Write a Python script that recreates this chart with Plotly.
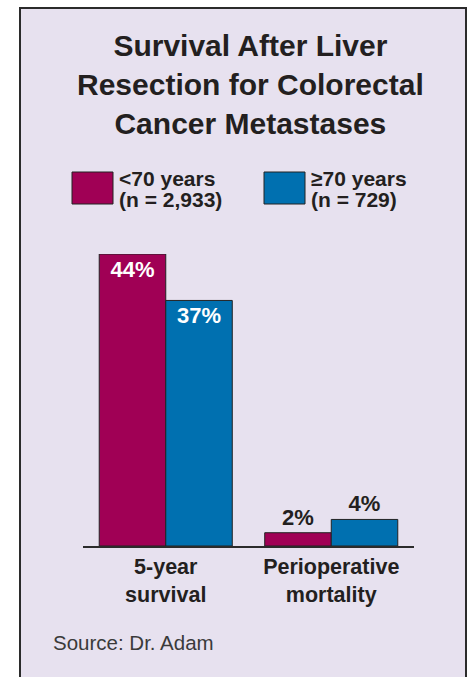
import plotly.graph_objects as go

# ---- data ----
categories = ["5-year<br>survival", "Perioperative<br>mortality"]
under70_values = [44, 2]
over70_values = [37, 4]
series_names = ["<70 years", "≥70 years"]
series_counts = ["(n = 2,933)", "(n = 729)"]
title_text = "Survival After Liver<br>Resection for Colorectal<br>Cancer Metastases"
source_text = "Source: Dr. Adam"

# ---- style ----
COL_A = "#A00055"
COL_B = "#0070B0"
BG = "#E7E1EF"
DARK = "#231F20"
FONT = "Liberation Sans, Arial, sans-serif"

W, H = 471, 677
L, R, T, B = 83, 57, 254, 131
PW, PH = W - L - R, H - T - B


def px_x(x):
    return (x - L) / PW


def px_y(y):
    return (H - B - y) / PH


fig = go.Figure()
for name, vals, col in [(series_names[0], under70_values, COL_A),
                        (series_names[1], over70_values, COL_B)]:
    fig.add_trace(go.Bar(
        x=categories, y=vals, name=name,
        marker=dict(color=col, line=dict(color="#222222", width=1)),
        texttemplate="<b>%{y}%</b>",
        textposition=["inside", "outside"],
        insidetextanchor="end",
        insidetextfont=dict(family=FONT, size=22, color="white"),
        outsidetextfont=dict(family=FONT, size=22, color=DARK),
        constraintext="none",
        cliponaxis=False,
        hoverinfo="skip",
    ))

shapes = [
    dict(type="rect", xref="paper", yref="paper",
         x0=px_x(20), x1=px_x(466), y0=px_y(700), y1=px_y(8),
         fillcolor=BG, line=dict(color="#2B2B2B", width=2), layer="below"),
]
annotations = [
    dict(text=f"<b>{title_text}</b>", xref="paper", yref="paper",
         x=px_x(250), y=px_y(27), xanchor="center", yanchor="top",
         showarrow=False, font=dict(family=FONT, size=30, color=DARK)),
    dict(text=source_text, xref="paper", yref="paper",
         x=px_x(51), y=px_y(642), xanchor="left", yanchor="middle",
         showarrow=False, font=dict(family=FONT, size=20.5, color="#3A3A3A")),
]
leg_x = [72, 264]
for i, (nm, cnt, col) in enumerate(zip(series_names, series_counts, [COL_A, COL_B])):
    bx = leg_x[i]
    shapes.append(dict(type="rect", xref="paper", yref="paper",
                       x0=px_x(bx), x1=px_x(bx + 41), y0=px_y(204), y1=px_y(172),
                       fillcolor=col, line=dict(color="#222222", width=1)))
    annotations.append(dict(text=f"<b>{nm}</b>", xref="paper", yref="paper",
                            x=px_x(bx + 45), y=px_y(178.5), xanchor="left", yanchor="middle",
                            showarrow=False, font=dict(family=FONT, size=21, color=DARK)))
    annotations.append(dict(text=f"<b>{cnt}</b>", xref="paper", yref="paper",
                            x=px_x(bx + 45), y=px_y(199), xanchor="left", yanchor="middle",
                            showarrow=False, font=dict(family=FONT, size=21, color=DARK)))

fig.update_layout(
    width=W, height=H,
    margin=dict(l=L, r=R, t=T, b=B, pad=0),
    paper_bgcolor="white",
    plot_bgcolor="rgba(0,0,0,0)",
    showlegend=False,
    barmode="group",
    bargap=0.196,
    bargroupgap=0,
    shapes=shapes,
    annotations=annotations,
    xaxis=dict(type="category", range=[-0.5, 1.5], showline=True, linecolor="#2B2B2B",
               linewidth=2, ticks="", showgrid=False, zeroline=False,
               tickfont=dict(family=FONT, size=21.5, color=DARK),
               tickvals=categories, ticktext=[f"<b>{c}</b>" for c in categories]),
    yaxis=dict(range=[0, 44], visible=False, showgrid=False, zeroline=False),
)

fig.write_html("out.html")
